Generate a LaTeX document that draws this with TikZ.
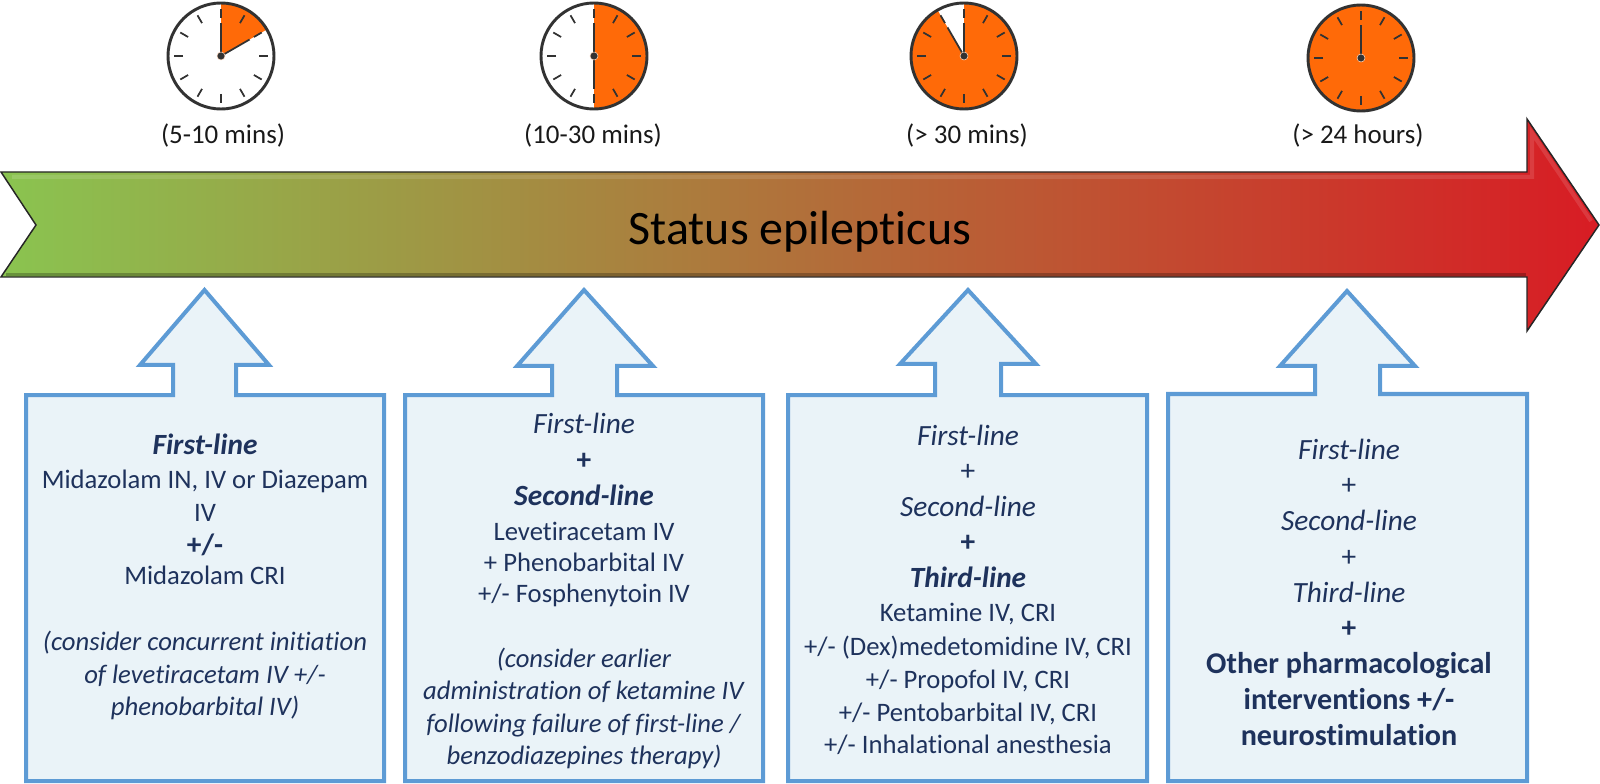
\documentclass[tikz,border=0pt]{standalone}
\usepackage{fontspec}
\setmainfont[Ligatures=NoCommon]{Carlito}
\definecolor{clockorange}{RGB}{255,106,8}
\definecolor{clockdark}{RGB}{50,50,50}
\definecolor{boxblue}{RGB}{93,155,213}
\definecolor{boxfill}{RGB}{234,243,248}
\definecolor{boxtextblue}{RGB}{30,50,92}
\definecolor{arrowgreen}{RGB}{138,196,80}
\definecolor{arrowred}{RGB}{216,28,36}
\newcommand{\headsize}{\fontsize{22}{24.6}\selectfont}
\tikzset{
    callout/.style={draw=boxblue, fill=boxfill, line width=3pt, miter limit=10},
    boxtext/.style={align=center, text=boxtextblue, inner sep=0pt, font=\fontsize{20}{24.6}\selectfont},
    timelabel/.style={inner sep=0pt, text=black!90, font=\fontsize{20.2}{24}\selectfont},
    clockrim/.style={draw=clockdark, line width=2.2pt},
    clockmark/.style={draw=clockdark, line width=1.3pt},
}
\begin{document}
\begin{tikzpicture}[x=0.75pt,y=-0.75pt]
    \useasboundingbox (0,0) rectangle (1600,784);
    % clocks: centre x / centre y / end of the orange part
    \foreach \cx/\cy/\endangle in {221/56/30, 594/56/-90, 964/56/-240, 1361/58/-270} {
        \begin{scope}[shift={(\cx,\cy)}, yscale=-1]
            \fill[white] (0,0) circle (53);
            \fill[clockorange] (0,0) -- (90:53) arc[start angle=90, end angle=\endangle, radius=53] -- cycle;
            \draw[clockrim] (0,0) circle (53);
            \foreach \tick in {0,30,...,330}
                \draw[clockmark] (\tick:38) -- (\tick:47);
            \draw[clockmark] (0,0) -- (90:33);
            \ifnum\endangle=-270\else
                \draw[clockmark] (0,0) -- (\endangle:33);
            \fi
            \fill[clockdark, draw=white!75!clockorange, line width=0.4pt] (0,0) circle (4);
        \end{scope}
    }
    \node[timelabel] (time1) at (223,136) {(5-10 mins)};
    \node[timelabel] (time2) at (593,136) {(10-30 mins)};
    \node[timelabel] (time3) at (967,136) {(> 30 mins)};
    \node[timelabel] (time4) at (1358,136) {(> 24 hours)};
    % big arrow
    \draw[black!85, line width=1.1pt, left color=arrowgreen, right color=arrowred]
        (1,172) -- (1527,172) -- (1527,119) -- (1599,225) -- (1527,331) -- (1527,277) -- (1,277) -- (36,225) -- cycle;
    \draw[white, opacity=0.12, line width=3pt] (12,177) -- (1532,177) -- (1532,133) -- (1591,221);
    \draw[black, opacity=0.25, line width=2pt] (6,274.5) -- (1526,274.5);
    \node[inner sep=0pt, text=black, font=\fontsize{36}{42}\selectfont] (title) at (800,232) {Status epilepticus};
    % treatment boxes
    \draw[callout] (26,395) -- (173,395) -- (173,365) -- (140,365) -- (204.5,290) -- (269,365) -- (236,365) -- (236,395) -- (384,395) -- (384,781) -- (26,781) -- cycle;
    \draw[callout] (405,395) -- (552,395) -- (552,366) -- (517,366) -- (584,290) -- (653,366) -- (617,366) -- (617,395) -- (763,395) -- (763,781) -- (405,781) -- cycle;
    \draw[callout] (788,395) -- (935,395) -- (935,364) -- (900,364) -- (968,290) -- (1036,364) -- (1001,364) -- (1001,395) -- (1147,395) -- (1147,781) -- (788,781) -- cycle;
    \draw[callout] (1168,394) -- (1315,394) -- (1315,366) -- (1280,366) -- (1347,291) -- (1415,366) -- (1380,366) -- (1380,394) -- (1527,394) -- (1527,781) -- (1168,781) -- cycle;
    \node[boxtext] (text1) at (205,577) {{\headsize\textbf{\textit{First-line}}}\\[0.8pt]
        Midazolam IN, IV or Diazepam\\
        IV\\[0.7pt]
        {\headsize\textbf{+/-}}\\[-2.3pt]
        Midazolam CRI\\
        \\
        \textit{(consider concurrent initiation}\\
        \textit{of levetiracetam IV +/-}\\
        \textit{phenobarbital IV)}};
    \node[boxtext] (text2) at (584,591) {{\headsize\textit{First-line}}\\[2.2pt]
        {\headsize\textbf{+}}\\[2.2pt]
        {\headsize\textbf{\textit{Second-line}}}\\[1.5pt]
        Levetiracetam IV\\[-1.5pt]
        + Phenobarbital IV\\[-0.8pt]
        +/- Fosphenytoin IV\\[-0.5pt]
        \\[-0.5pt]
        \textit{(consider earlier}\\
        \textit{administration of ketamine IV}\\
        \textit{following failure of first-line /}\\[-1pt]
        \textit{benzodiazepines therapy)}};
    \node[boxtext] (text3) at (968,590) {{\headsize\textit{First-line}}\\[2pt]
        {\headsize +}\\[2pt]
        {\headsize\textit{Second-line}}\\[2pt]
        {\headsize\textbf{+}}\\[2pt]
        {\headsize\textbf{\textit{Third-line}}}\\[1pt]
        Ketamine IV, CRI\\[1pt]
        +/- (Dex)medetomidine IV, CRI\\
        +/- Propofol IV, CRI\\
        +/- Pentobarbital IV, CRI\\
        +/- Inhalational anesthesia};
    \node[boxtext, font=\fontsize{22}{26.8}\selectfont] (text4) at (1349,592) {\textit{First-line}\\
        +\\
        \textit{Second-line}\\
        +\\
        \textit{Third-line}\\
        \textbf{+}\\
        {\fontsize{22.6}{26.8}\selectfont\textbf{Other pharmacological}}\\
        {\fontsize{22.6}{26.8}\selectfont\textbf{interventions +/-}}\\
        {\fontsize{22.6}{26.8}\selectfont\textbf{neurostimulation}}};
\end{tikzpicture}
\end{document}
